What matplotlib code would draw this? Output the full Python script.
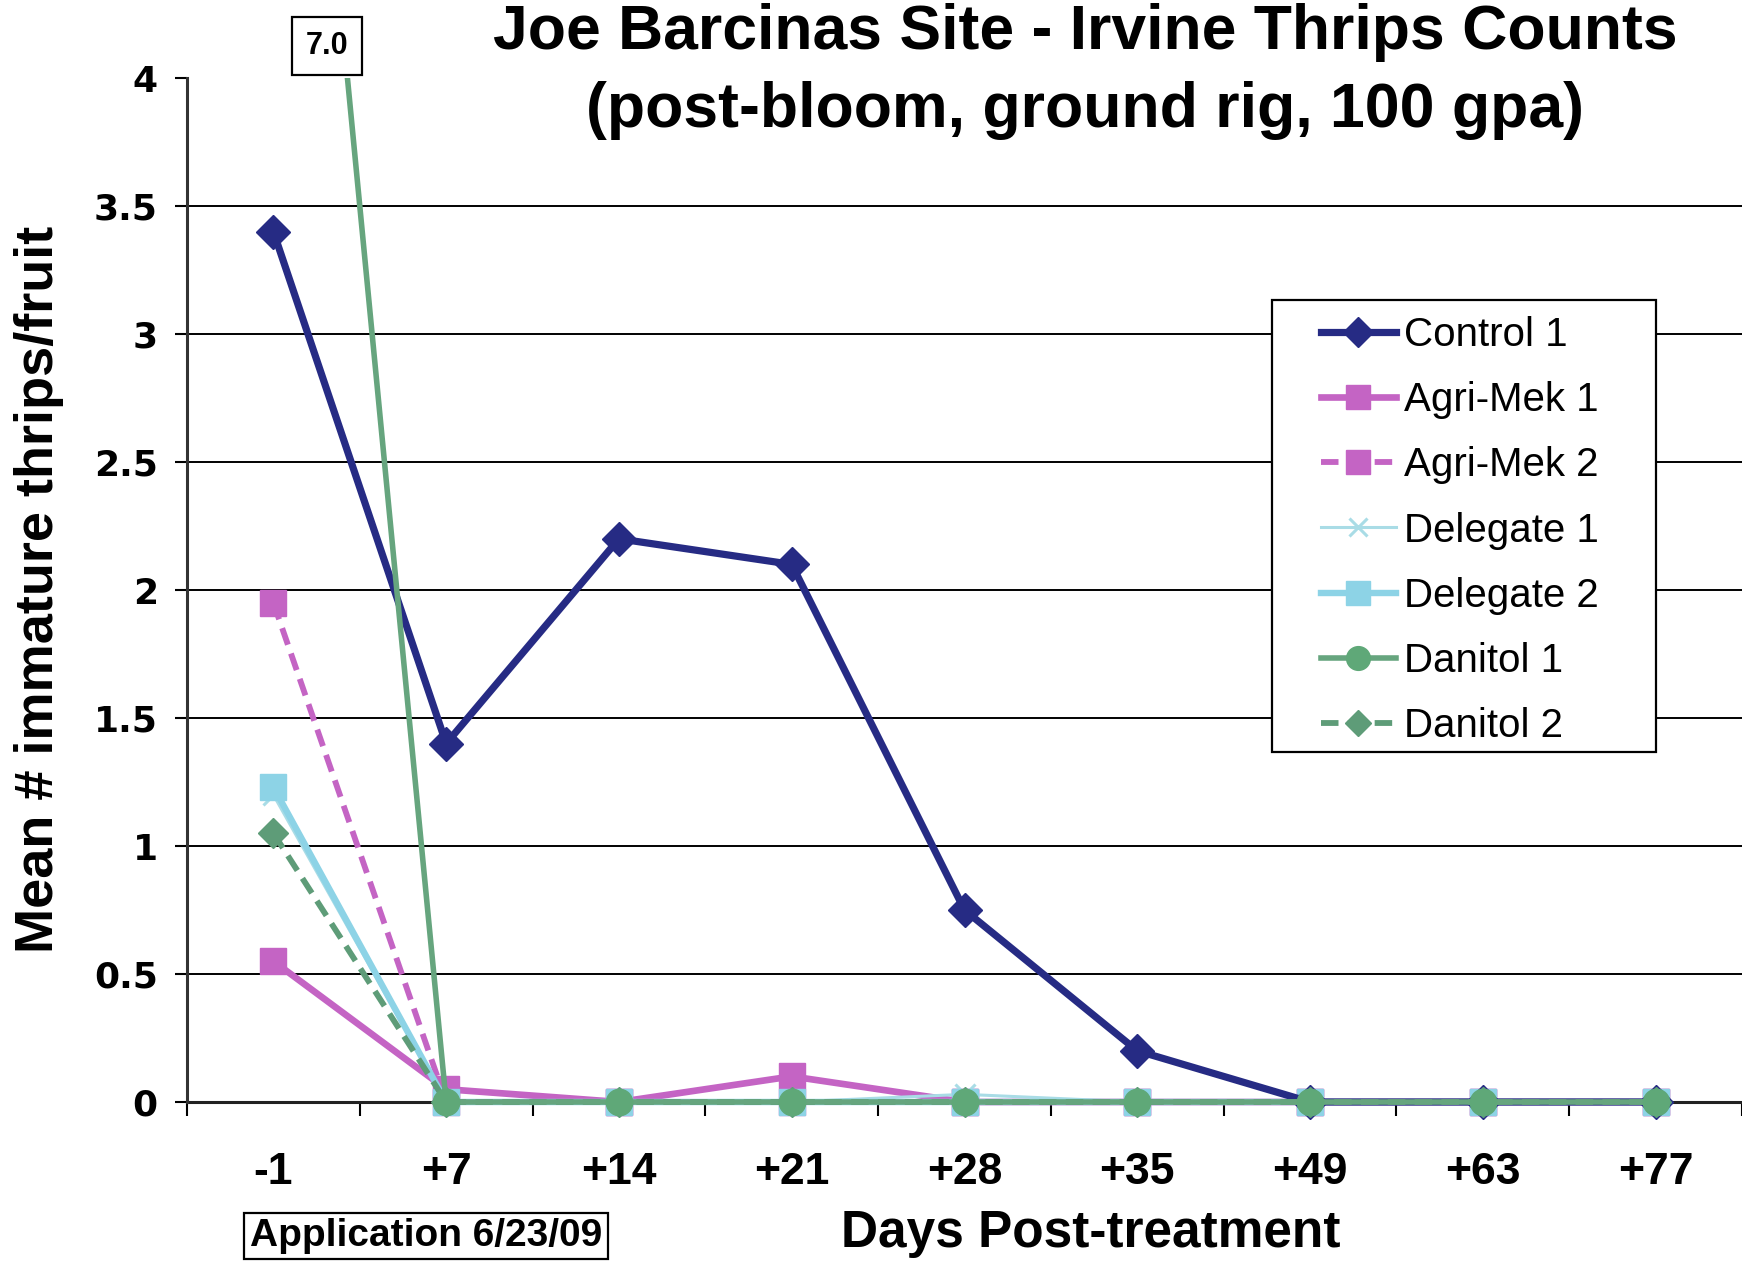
import matplotlib
matplotlib.use("Agg")
import matplotlib.pyplot as plt
from matplotlib.ticker import FixedLocator, NullFormatter
from matplotlib.patches import Rectangle

categories = ["-1", "+7", "+14", "+21", "+28", "+35", "+49", "+63", "+77"]
control_1 = [3.4, 1.4, 2.2, 2.1, 0.75, 0.2, 0.0, 0.0, 0.0]
agrimek_1 = [0.55, 0.05, 0.0, 0.1, 0.0, 0.0, 0.0, 0.0, 0.0]
agrimek_2 = [1.95, 0.0, 0.0, 0.0, 0.0, 0.0, 0.0, 0.0, 0.0]
delegate_1 = [1.2, 0.0, 0.0, 0.0, 0.03, 0.0, 0.0, 0.0, 0.0]
delegate_2 = [1.23, 0.0, 0.0, 0.0, 0.0, 0.0, 0.0, 0.0, 0.0]
danitol_1 = [7.0, 0.0, 0.0, 0.0, 0.0, 0.0, 0.0, 0.0, 0.0]
danitol_2 = [1.05, 0.0, 0.0, 0.0, 0.0, 0.0, 0.0, 0.0, 0.0]
yticks = [0, 0.5, 1, 1.5, 2, 2.5, 3, 3.5, 4]
ytick_labels = ["0", "0.5", "1", "1.5", "2", "2.5", "3", "3.5", "4"]

W, H = 1742, 1265
fig = plt.figure(figsize=(W / 100, H / 100), dpi=100)
ax = fig.add_axes([187 / W, 1 - 1102 / H, (W - 187) / W, (1102 - 78) / H])

x = list(range(len(categories)))
dash = (0, (3.0, 1.6))
lines = []
lines += ax.plot(x, control_1, color="#262B84", lw=5.2, marker="D", ms=17, label="Control 1", zorder=5)
lines += ax.plot(x, agrimek_1, color="#C464C4", lw=4.8, marker="s", ms=19, label="Agri-Mek 1", zorder=4)
lines += ax.plot(x, agrimek_2, color="#C464C4", lw=4.2, ls=dash, marker="s", ms=19, label="Agri-Mek 2", zorder=4)
lines += ax.plot(x, delegate_1, color="#A9DCE6", lw=2.2, marker="x", ms=15, mew=2.2, label="Delegate 1", zorder=4)
lines += ax.plot(x, delegate_2, color="#8DD3E6", lw=4.6, marker="s", ms=19, label="Delegate 2", zorder=4)
lines += ax.plot(x, danitol_2, color="#5E9C78", lw=4.2, ls=dash, marker="D", ms=15, label="Danitol 2", zorder=5)
lines += ax.plot(x, danitol_1, color="#66A57E", lw=4.0, marker="o", ms=19, mfc="#5FA878", mec="#5FA878",
                 label="Danitol 1", zorder=6)

# clip only at the top of the plot area so markers at zero stay whole
clip_rect = Rectangle((-0.05, -0.1), 1.1, 1.1, transform=ax.transAxes, visible=False)
ax.add_patch(clip_rect)
for ln in lines:
    ln.set_clip_path(clip_rect)

ax.set_xlim(-0.5, len(categories) - 0.5)
ax.set_ylim(0, 4)

for yv in yticks[1:-1]:
    ax.axhline(yv, color="black", lw=1.4, zorder=1)

for s in ["top", "right"]:
    ax.spines[s].set_visible(False)
ax.spines["left"].set_linewidth(2.2)
ax.spines["left"].set_color("#333333")
ax.spines["bottom"].set_linewidth(2.2)
ax.spines["bottom"].set_color("#222222")
ax.spines["bottom"].set_zorder(2)

ax.set_yticks(yticks)
ax.set_yticklabels(ytick_labels, fontfamily="DejaVu Sans", fontweight="bold", fontsize=26)
ax.tick_params(axis="y", direction="out", length=9, width=1.5, pad=12)

ax.set_xticks(x)
ax.set_xticklabels(categories, fontfamily="Liberation Sans", fontweight="bold", fontsize=32)
ax.tick_params(axis="x", which="major", length=0, pad=36)
ax.xaxis.set_minor_locator(FixedLocator([i - 0.5 for i in range(len(categories) + 1)]))
ax.xaxis.set_minor_formatter(NullFormatter())
ax.tick_params(axis="x", which="minor", direction="out", length=10, width=1.5)

# legend (frame drawn separately)
handles, labels = ax.get_legend_handles_labels()
order = ["Control 1", "Agri-Mek 1", "Agri-Mek 2", "Delegate 1", "Delegate 2", "Danitol 1", "Danitol 2"]
hmap = dict(zip(labels, handles))
lx0, ly0, lx1, ly1 = 1272, 300, 1656, 752
frame = Rectangle((lx0 / W, 1 - ly1 / H), (lx1 - lx0) / W, (ly1 - ly0) / H,
                  transform=fig.transFigure, fc="white", ec="black", lw=1.6, zorder=9, clip_on=False)
ax.add_patch(frame)
leg = ax.legend([hmap[l] for l in order], order, loc="upper left",
                bbox_to_anchor=((1321 - 187) / (W - 187), (1102 - 316) / (1102 - 78)),
                prop={"family": "Liberation Sans", "size": 29},
                frameon=False, handlelength=1.85, handletextpad=0.2, labelspacing=0.675,
                borderpad=0.0, borderaxespad=0, markerscale=0.9)
leg.set_zorder(10)

fig.text(1085 / W, 1 - 33 / H, "Joe Barcinas Site - Irvine Thrips Counts",
         ha="center", va="center", fontsize=45, fontweight="bold", family="Liberation Sans")
fig.text(1085 / W, 1 - 110 / H, "(post-bloom, ground rig, 100 gpa)",
         ha="center", va="center", fontsize=45, fontweight="bold", family="Liberation Sans")
fig.text(39 / W, 1 - 589 / H, "Mean # immature thrips/fruit", rotation=90,
         ha="center", va="center", fontsize=39, fontweight="bold", family="Liberation Sans")
fig.text(1091 / W, 1 - 1234 / H, "Days Post-treatment",
         ha="center", va="center", fontsize=37, fontweight="bold", family="Liberation Sans")
fig.text(426 / W, 1 - 1236 / H, "Application 6/23/09",
         ha="center", va="center", fontsize=28, fontweight="bold", family="Liberation Sans",
         bbox=dict(boxstyle="square,pad=0.14", fc="white", ec="black", lw=1.6))
fig.text(327 / W, 1 - 46 / H, "7.0",
         ha="center", va="center", fontsize=22, fontweight="bold", family="Liberation Sans",
         bbox=dict(boxstyle="square,pad=0.45", fc="white", ec="black", lw=1.6))

fig.savefig("out.png", dpi=100)
